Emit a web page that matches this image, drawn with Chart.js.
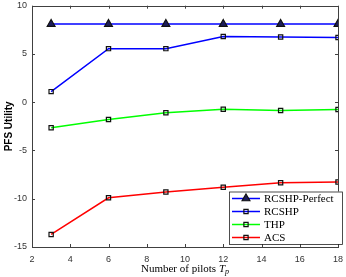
<!DOCTYPE html>
<html>
<head>
<meta charset="utf-8">
<script src="https://cdn.jsdelivr.net/npm/chart.js@4"></script>
<style>
  html, body { margin: 0; padding: 0; background: #fff; }
  #wrap { width: 346px; height: 277px; }
</style>
</head>
<body>
<div id="wrap"><canvas id="chart"></canvas></div>
<script>
// values
const pilots = [3, 6, 9, 12, 15, 18];
const rcshpPerfect = [8.1, 8.1, 8.1, 8.1, 8.1, 8.1];
const rcshp = [1.1, 5.55, 5.55, 6.8, 6.75, 6.7];
const thp = [-2.65, -1.8, -1.1, -0.72, -0.85, -0.75];
const acs = [-13.7, -9.9, -9.3, -8.8, -8.35, -8.27];
const xTicks = [2, 4, 6, 8, 10, 12, 14, 16, 18];
const yTicks = [-15, -10, -5, 0, 5, 10];

const axisColor = '#404040';

function series(label, vals, color, marker) {
  return {
    label: label,
    data: pilots.map((p, i) => ({ x: p, y: vals[i] })),
    borderColor: color,
    borderWidth: 1.5,
    pointStyle: marker,
    pointRadius: marker === 'triangle' ? 4.5 : 3,
    pointBorderColor: '#111',
    pointBorderWidth: 1.2,
    pointBackgroundColor: marker === 'triangle' ? '#1c1c5a' : 'rgba(0,0,0,0)',
    tension: 0
  };
}

const datasets = [
  series('RCSHP-Perfect', rcshpPerfect, '#0000ff', 'triangle'),
  series('RCSHP', rcshp, '#0000ff', 'rect'),
  series('THP', thp, '#00ff00', 'rect'),
  series('ACS', acs, '#ff0000', 'rect')
];

// frame, inward ticks, axis titles and legend box
const decor = {
  id: 'decor',
  afterDraw(chart) {
    const ctx = chart.ctx;
    const a = chart.chartArea;
    const xs = chart.scales.x, ys = chart.scales.y;
    ctx.save();
    ctx.strokeStyle = axisColor;
    ctx.lineWidth = 1;
    ctx.strokeRect(Math.round(a.left) + 0.5, Math.round(a.top) + 0.5,
      Math.round(a.right - a.left), Math.round(a.bottom - a.top));
    ctx.beginPath();
    xTicks.forEach(t => {
      const x = Math.round(xs.getPixelForValue(t)) + 0.5;
      ctx.moveTo(x, a.bottom); ctx.lineTo(x, a.bottom - 3);
      ctx.moveTo(x, a.top); ctx.lineTo(x, a.top + 3);
    });
    yTicks.forEach(t => {
      const y = Math.round(ys.getPixelForValue(t)) + 0.5;
      ctx.moveTo(a.left, y); ctx.lineTo(a.left + 3, y);
      ctx.moveTo(a.right, y); ctx.lineTo(a.right - 3, y);
    });
    ctx.stroke();

    // x title: Number of pilots T_p
    ctx.fillStyle = '#000';
    ctx.textBaseline = 'alphabetic';
    const base = 'Number of pilots ';
    ctx.font = '11px "Liberation Serif", serif';
    const w1 = ctx.measureText(base).width;
    ctx.font = 'italic 11px "Liberation Serif", serif';
    const w2 = ctx.measureText('T').width;
    ctx.font = 'italic 8px "Liberation Serif", serif';
    const w3 = ctx.measureText('p').width;
    let x0 = (a.left + a.right) / 2 - (w1 + w2 + w3) / 2;
    const by = 272;
    ctx.font = '11px "Liberation Serif", serif';
    ctx.fillText(base, x0, by);
    ctx.font = 'italic 11px "Liberation Serif", serif';
    ctx.fillText('T', x0 + w1, by);
    ctx.font = 'italic 8px "Liberation Serif", serif';
    ctx.fillText('p', x0 + w1 + w2, by + 2);

    // y title
    ctx.save();
    ctx.translate(9, (a.top + a.bottom) / 2);
    ctx.rotate(-Math.PI / 2);
    ctx.font = 'bold 10px "Liberation Sans", Arial, sans-serif';
    ctx.textAlign = 'center';
    ctx.textBaseline = 'middle';
    ctx.fillText('PFS Utility', 0, 0);
    ctx.restore();

    // legend
    const lx = 229, ly = 191.5, lw = 113, lh = 52.5;
    ctx.fillStyle = '#fff';
    ctx.fillRect(lx, ly, lw, lh);
    ctx.strokeStyle = '#222';
    ctx.lineWidth = 0.8;
    ctx.strokeRect(lx + 0.5, ly + 0.5, lw, lh);
    chart.data.datasets.forEach((ds, i) => {
      const yy = ly + 7 + i * 13;
      ctx.strokeStyle = ds.borderColor;
      ctx.lineWidth = 1.5;
      ctx.beginPath();
      ctx.moveTo(lx + 3, yy); ctx.lineTo(lx + 31, yy);
      ctx.stroke();
      ctx.strokeStyle = ds.pointBorderColor;
      ctx.fillStyle = ds.pointBackgroundColor;
      ctx.lineWidth = ds.pointBorderWidth;
      Chart.helpers.drawPoint(ctx, {
        pointStyle: ds.pointStyle, radius: ds.pointRadius, rotation: 0, borderWidth: ds.pointBorderWidth
      }, lx + 17, yy);
      ctx.fillStyle = '#000';
      ctx.font = '11px "Liberation Serif", serif';
      ctx.textAlign = 'left';
      ctx.textBaseline = 'middle';
      ctx.fillText(ds.label, lx + 35, yy + 0.5);
    });
    ctx.restore();
  }
};

new Chart(document.getElementById('chart'), {
  type: 'line',
  data: { datasets: datasets },
  plugins: [decor],
  options: {
    responsive: true,
    maintainAspectRatio: false,
    animation: false,
    layout: { padding: { top: 4.5, right: 8, left: 0, bottom: 0 } },
    plugins: { legend: { display: false }, tooltip: { enabled: false } },
    scales: {
      x: {
        type: 'linear', min: 2, max: 18,
        grid: { display: false, drawTicks: false },
        border: { display: false },
        afterBuildTicks: s => { s.ticks = xTicks.map(v => ({ value: v })); },
        afterFit: s => { s.height = 30; s.paddingLeft = 0; s.paddingRight = 0; },
        ticks: { padding: 7, color: '#333', maxRotation: 0, font: { size: 9, family: '"Liberation Sans", Arial, sans-serif' } }
      },
      y: {
        min: -15, max: 10,
        grid: { display: false, drawTicks: false },
        border: { display: false },
        afterBuildTicks: s => { s.ticks = yTicks.map(v => ({ value: v })); },
        afterFit: s => { s.width = 32; s.paddingTop = 0; s.paddingBottom = 0; },
        ticks: { padding: 5, color: '#333', font: { size: 9, family: '"Liberation Sans", Arial, sans-serif' } }
      }
    }
  }
});
</script>
</body>
</html>
